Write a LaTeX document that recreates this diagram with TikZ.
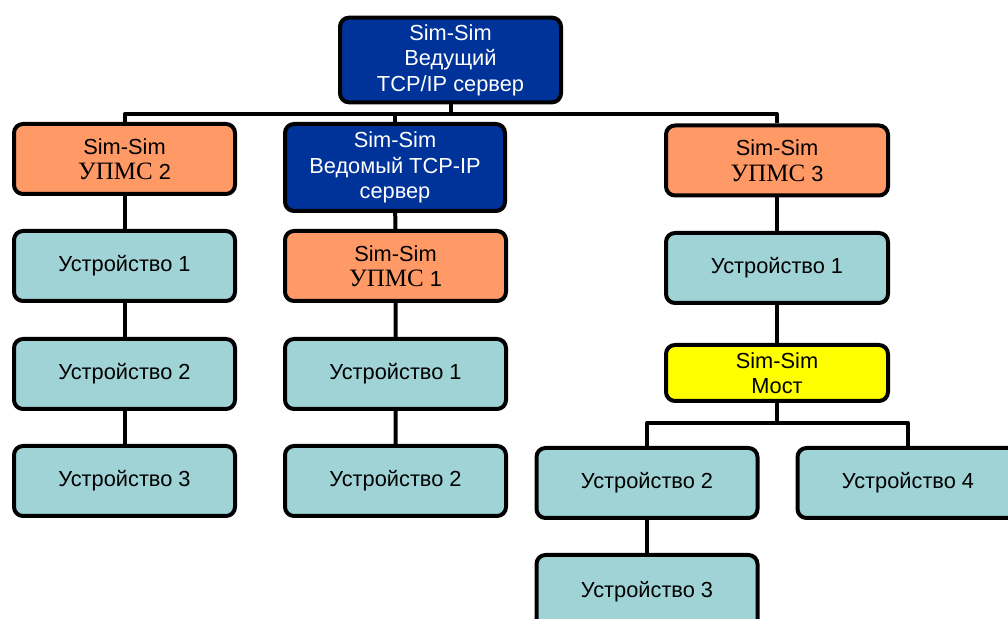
\documentclass[tikz,border=0pt]{standalone}
\usepackage{fontspec}
\setmainfont{Liberation Sans}
\newfontfamily\tnr{Liberation Serif}
\definecolor{darkblue}{HTML}{003399}
\definecolor{salmon}{HTML}{FF9966}
\definecolor{devteal}{HTML}{A0D3D6}
\definecolor{bridgeyel}{HTML}{FFFF00}
\newcommand{\upmsname}[1]{Sim-Sim\\{\tnr\fontsize{12.5}{13.5}\selectfont УПМС}~#1}

\begin{document}
\begin{tikzpicture}[x=0.5pt, y=-0.5pt, line width=2pt, line join=round,
    every node/.style={draw, rounded corners=4.5pt, align=center, minimum width=110.5pt,
        font=\fontsize{10.9}{12.75}\selectfont},
    server/.style={fill=darkblue, text=white},
    upms/.style={fill=salmon, minimum height=35pt},
    dev/.style={fill=devteal, minimum height=35pt},
    bridge/.style={fill=bridgeyel, minimum height=28pt}]
    \useasboundingbox (0,0) rectangle (1008,619);
    \clip (0,0) rectangle (1008,619);

    % bus lines
    \coordinate (bus) at (0,114);
    \coordinate (bridgebus) at (0,423);

    % master and its three branches
    \node[server, minimum height=42pt] (master) at (450.5,60) {Sim-Sim\\Ведущий\\TCP/IP сервер};
    \node[upms] (upms2) at (124.5,159) {\upmsname{2}};
    \node[server, minimum height=43.5pt, minimum width=110pt] (slave) at (395,167.5) {Sim-Sim\\Ведомый TCP-IP\\сервер};
    \node[upms, minimum width=111pt] (upms3) at (777,160.5) {\upmsname{3}};

    % left column
    \node[dev] (ldev1) at (124.5,266) {Устройство 1};
    \node[dev] (ldev2) at (124.5,374) {Устройство 2};
    \node[dev] (ldev3) at (124.5,481) {Устройство 3};

    % middle column
    \node[upms] (upms1) at (395.5,266) {\upmsname{1}};
    \node[dev] (mdev1) at (395.5,374) {Устройство 1};
    \node[dev] (mdev2) at (395.5,481) {Устройство 2};

    % right column
    \node[dev, minimum width=111pt] (rdev1) at (777,268) {Устройство 1};
    \node[bridge, minimum width=111pt] (bridge) at (777,373) {Sim-Sim\\Мост};
    \node[dev] (rdev2) at (647,483) {Устройство 2};
    \node[dev] (rdev4) at (908,483) {Устройство 4};
    \node[dev, minimum height=37pt] (rdev3) at (647,592) {Устройство 3};

    \draw (master.south) -- (master.south |- bus);
    \draw (upms2.north) |- (bus -| upms3) -- (upms3.north);
    \draw (slave.north) -- (slave.north |- bus);
    \draw (upms2) -- (ldev1) -- (ldev2) -- (ldev3);
    \draw (slave) -- (upms1) -- (mdev1) -- (mdev2);
    \draw (upms3) -- (rdev1) -- (bridge);
    \draw (bridge.south) -- (bridge.south |- bridgebus);
    \draw (rdev2.north) |- (bridgebus -| rdev4) -- (rdev4.north);
    \draw (rdev2) -- (rdev3);
\end{tikzpicture}
\end{document}
